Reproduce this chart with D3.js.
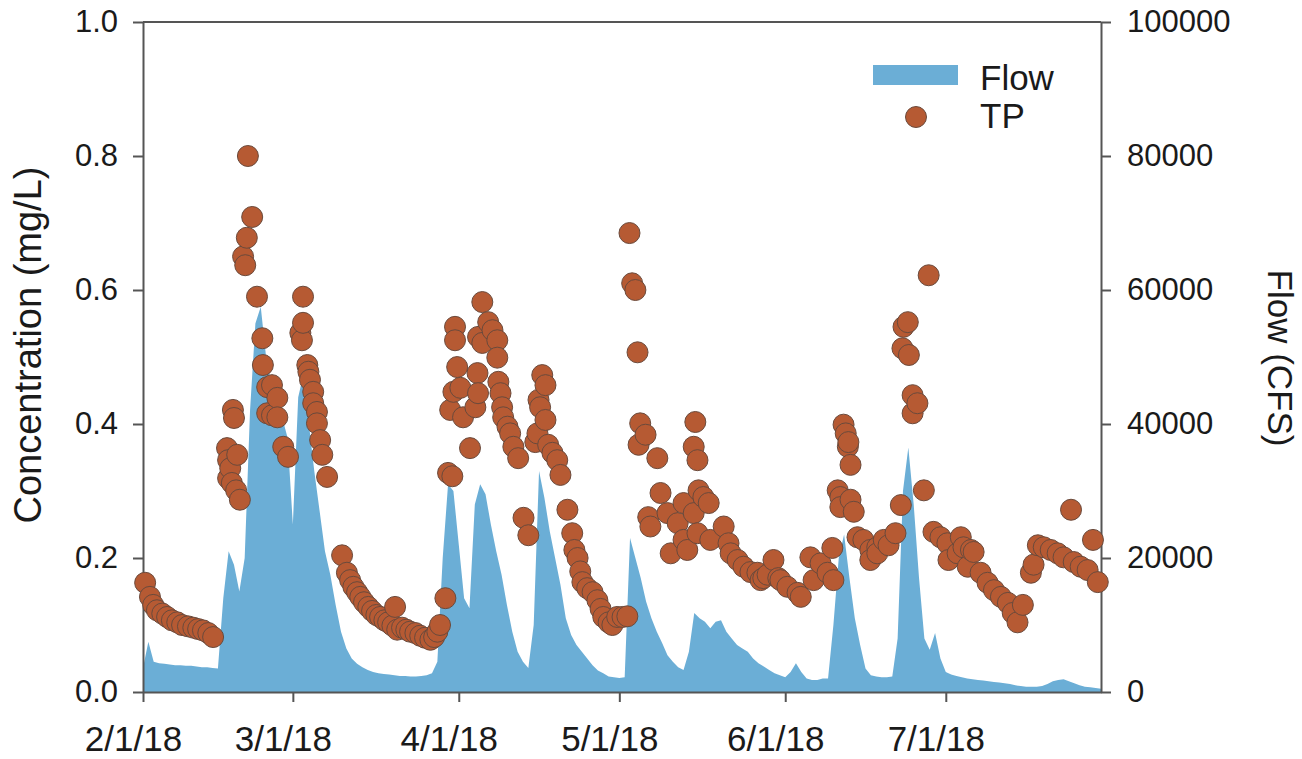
<!DOCTYPE html>
<html>
<head>
<meta charset="utf-8">
<script src="https://cdn.jsdelivr.net/npm/d3@7"></script>
<style>
  body { margin: 0; background: #fff; }
  svg { display: block; }
  text { font-family: "Liberation Sans", Arial, Helvetica, sans-serif; fill: #1a1a1a; }
</style>
</head>
<body>
<svg id="chart" width="1302" height="759"></svg>
<script>
// Record start (day 0) of both series
const startDate = "2018-02-01";

// Daily flow (CFS), one value per day starting 1 Feb 2018
const flowCfs = [
  3600, 7500, 4500, 4300, 4200, 4100, 4000, 4000, 3900, 3900,
  3800, 3700, 3700, 3600, 3500, 14000, 21000, 19000, 15000, 20000,
  42000, 55000, 57500, 50000, 46000, 43000, 41000, 38000, 25000, 44000,
  47500, 40000, 33000, 27000, 21000, 17500, 13000, 9000, 6500, 5000,
  4200, 3700, 3300, 3000, 2800, 2700, 2600, 2500, 2400, 2400,
  2300, 2300, 2400, 2500, 2800, 4500, 20000, 31000, 30000, 22000,
  14000, 12500, 28000, 31000, 29500, 25000, 21000, 17500, 13000, 9000,
  6000, 4500, 3600, 10000, 33000, 29000, 24000, 20000, 16000, 11000,
  8500, 7000, 6000, 5000, 4000, 3200, 2800, 2300, 2200, 2100,
  2200, 23000, 20000, 17000, 13500, 11000, 9000, 7300, 5500, 4500,
  3700, 3300, 6000, 11800, 11000, 10500, 9500, 10500, 10700, 9000,
  8000, 7000, 6500, 6000, 5000, 4300, 3800, 3300, 2800, 2500,
  2200, 3000, 4300, 3000, 2000, 1800, 1800, 2000, 2000, 10000,
  20000, 23500, 17000, 11000, 7000, 3500, 2500, 2300, 2200, 2200,
  2300, 8000, 30000, 36500, 28000, 17000, 8000, 6300, 8800, 5000,
  3000, 2600, 2400, 2200, 2000, 1900, 1800, 1700, 1600, 1500,
  1400, 1300, 1200, 1000, 900, 800, 800, 800, 900, 1200,
  1600, 1800, 1900, 1600, 1300, 1000, 800, 700, 600, 500
];

// Total phosphorus samples: time (days after 1 Feb 2018) and concentration (mg/L)
const tpDays = [
  0.4, 1.3, 1.9, 2.6, 3.6, 4.5, 5.4, 6.4, 7.3, 8.4, 9.4, 10.3, 11.2, 12.2, 13.1,
  15.7, 15.9, 15.9, 16.3, 16.6, 16.8, 17.0, 17.4, 17.6, 18.1, 18.7, 19.1, 19.4, 19.6, 20.4,
  21.3, 22.3, 22.4, 23.2, 23.2, 24.1, 24.1, 25.1, 25.1, 26.2, 27.1,
  29.4, 29.7, 29.9, 29.9, 30.7, 30.9, 31.2, 31.8, 31.8, 32.5, 32.5, 33.1, 33.5, 34.4,
  37.2, 38.1, 38.7, 39.3, 40.0, 40.6, 41.3, 42.1, 42.8, 43.6, 44.3, 45.1, 45.8, 46.6,
  47.1, 47.5, 48.4, 49.2, 49.9, 50.9, 51.8, 52.7, 53.7, 54.4, 55.0, 55.5, 56.5,
  57.0, 57.8, 57.4, 58.0, 58.3, 58.3, 58.7, 59.3, 59.8, 61.1, 62.1, 62.5, 62.6, 62.6,
  63.4, 63.4, 64.5, 65.3, 66.2, 66.2, 66.4, 66.8, 67.1, 67.3, 68.1, 68.6, 69.2, 70.1,
  71.1, 72.0,
  73.3, 73.7, 73.9, 74.2, 74.6, 75.2, 75.2, 75.7, 76.5, 77.4, 78.0, 79.3, 80.2, 80.6,
  81.2, 81.7, 82.1, 83.0, 84.0, 84.9, 85.5, 86.0, 87.0, 87.7, 88.6, 89.6, 90.5,
  90.9, 91.4, 92.0, 92.4, 92.6, 92.9, 93.9, 94.4, 94.8, 96.1, 96.7, 98.0, 98.6, 99.9,
  101.0, 101.0, 101.7, 102.9, 102.9, 103.2, 103.6, 103.6, 103.8, 104.7, 105.7, 106.0,
  108.5, 109.4, 109.8, 111.1, 112.2, 113.5, 114.8, 115.4, 115.9, 116.7, 117.8, 118.7,
  119.1, 120.4, 122.3, 122.9, 124.7, 125.3, 126.6, 127.9, 128.8, 129.0, 129.8, 130.3,
  130.3, 130.9, 131.3, 131.7, 131.8, 132.2, 132.2, 132.8, 133.5, 134.6, 135.9, 135.9,
  137.2, 137.2, 138.4, 139.3, 140.6, 141.6,
  141.9, 142.1, 142.9, 143.1, 143.8, 143.8, 144.7, 145.9, 146.8, 147.7, 149.0, 150.3,
  150.5, 152.2, 152.8, 153.3, 154.1, 154.7,
  155.2, 156.5, 157.8, 159.0, 160.3, 161.6, 162.5, 163.4, 164.4, 165.9, 166.4, 167.2,
  168.3, 169.6, 170.9, 172.0, 173.4, 173.9, 175.2, 176.5, 177.5, 178.4
];
const tpConc = [
  0.163, 0.142, 0.130, 0.122, 0.117, 0.112, 0.107, 0.104, 0.100, 0.098, 0.096, 0.094, 0.092, 0.088, 0.082,
  0.364, 0.346, 0.319, 0.334, 0.312, 0.421, 0.409, 0.301, 0.354, 0.287, 0.650, 0.637, 0.678, 0.800, 0.709,
  0.590, 0.528, 0.488, 0.455, 0.416, 0.458, 0.413, 0.439, 0.410, 0.366, 0.351,
  0.536, 0.525, 0.590, 0.551, 0.488, 0.478, 0.466, 0.448, 0.431, 0.418, 0.401, 0.376, 0.354, 0.321,
  0.204, 0.178, 0.167, 0.157, 0.149, 0.142, 0.134, 0.127, 0.121, 0.115, 0.112, 0.107, 0.104, 0.099,
  0.127, 0.093, 0.096, 0.093, 0.090, 0.088, 0.084, 0.081, 0.078, 0.082, 0.090, 0.100, 0.140,
  0.327, 0.322, 0.421, 0.448, 0.545, 0.525, 0.485, 0.454, 0.410, 0.364, 0.425, 0.476, 0.446, 0.530,
  0.582, 0.521, 0.552, 0.540, 0.525, 0.499, 0.463, 0.446, 0.425, 0.410, 0.396, 0.386, 0.366, 0.349,
  0.260, 0.234,
  0.373, 0.386, 0.436, 0.425, 0.473, 0.458, 0.406, 0.369, 0.357, 0.346, 0.324, 0.272, 0.237, 0.212,
  0.200, 0.180, 0.164, 0.155, 0.149, 0.137, 0.124, 0.112, 0.104, 0.100, 0.112, 0.112, 0.113,
  0.685, 0.610, 0.600, 0.507, 0.369, 0.401, 0.384, 0.261, 0.247, 0.349, 0.297, 0.267, 0.207, 0.252,
  0.227, 0.282, 0.212, 0.366, 0.267, 0.403, 0.346, 0.237, 0.301, 0.291, 0.282, 0.227,
  0.247, 0.222, 0.207, 0.197, 0.187, 0.179, 0.178, 0.167, 0.170, 0.175, 0.197, 0.170,
  0.167, 0.157, 0.148, 0.142, 0.201, 0.167, 0.192, 0.178, 0.215, 0.167, 0.301, 0.291,
  0.276, 0.399, 0.386, 0.366, 0.373, 0.339, 0.287, 0.269, 0.231, 0.227, 0.212, 0.197,
  0.216, 0.207, 0.227, 0.219, 0.237, 0.279,
  0.513, 0.545, 0.552, 0.503, 0.443, 0.416, 0.431, 0.301, 0.622, 0.239, 0.231, 0.222,
  0.197, 0.207, 0.231, 0.216, 0.187, 0.212,
  0.209, 0.178, 0.163, 0.152, 0.142, 0.133, 0.118, 0.104, 0.130, 0.178, 0.190, 0.219,
  0.216, 0.212, 0.207, 0.201, 0.272, 0.194, 0.187, 0.182, 0.227, 0.164
];

// Axis ticks
const xTickDates = ["2018-02-01", "2018-03-01", "2018-04-01", "2018-05-01", "2018-06-01", "2018-07-01"];
const xTickLabels = ["2/1/18", "3/1/18", "4/1/18", "5/1/18", "6/1/18", "7/1/18"];
const concTicks = [0, 0.2, 0.4, 0.6, 0.8, 1.0];
const flowTicks = [0, 20000, 40000, 60000, 80000, 100000];

const parseDay = d3.timeParse("%Y-%m-%d");
const t0 = parseDay(startDate);
const atDays = d => new Date(t0.getTime() + d * 864e5);

const flowData = flowCfs.map((v, i) => ({ date: d3.timeDay.offset(t0, i), value: v }));
const tpData = tpDays.map((d, i) => ({ date: atDays(d), value: tpConc[i] }));

// Plot frame in pixels
const frame = { left: 143, right: 1101, top: 22, bottom: 692 };
const axisColor = "#555";

const svg = d3.select("#chart");

const x = d3.scaleTime()
  .domain([t0, d3.timeDay.offset(t0, flowCfs.length - 1)])
  .range([frame.left, frame.right]);
const yConc = d3.scaleLinear().domain([0, 1]).range([frame.bottom, frame.top]);
const yFlow = d3.scaleLinear().domain([0, 100000]).range([frame.bottom, frame.top]);

// Flow as a filled area on the right-hand axis
svg.append("path")
  .datum(flowData)
  .attr("fill", "#6baed6")
  .attr("d", d3.area()
    .x(d => x(d.date))
    .y0(yFlow(0))
    .y1(d => yFlow(d.value)));

// Top frame line
svg.append("line")
  .attr("x1", frame.left).attr("x2", frame.right)
  .attr("y1", frame.top).attr("y2", frame.top)
  .attr("stroke", axisColor).attr("stroke-width", 2);

function styleAxis(g, fontSize) {
  g.select(".domain").attr("stroke", axisColor).attr("stroke-width", 2);
  g.selectAll(".tick line").attr("stroke", axisColor).attr("stroke-width", 2);
  g.selectAll(".tick text")
    .attr("fill", "#1a1a1a")
    .style("font-size", fontSize + "px")
    .style("font-family", '"Liberation Sans", Arial, sans-serif');
}

// Left axis: concentration
svg.append("g")
  .attr("transform", `translate(${frame.left},0)`)
  .call(d3.axisLeft(yConc).tickValues(concTicks).tickFormat(d3.format(".1f"))
    .tickSize(10).tickSizeOuter(0).tickPadding(15))
  .call(g => styleAxis(g, 31));

// Right axis: flow
svg.append("g")
  .attr("transform", `translate(${frame.right},0)`)
  .call(d3.axisRight(yFlow).tickValues(flowTicks).tickFormat(d3.format("d"))
    .tickSize(10).tickSizeOuter(0).tickPadding(16))
  .call(g => styleAxis(g, 31));

// Bottom axis: dates
const xTicks = xTickDates.map(parseDay);
svg.append("g")
  .attr("transform", `translate(0,${frame.bottom})`)
  .call(d3.axisBottom(x).tickValues(xTicks)
    .tickFormat((d, i) => xTickLabels[i])
    .tickSize(10).tickSizeOuter(0).tickPadding(24))
  .call(g => styleAxis(g, 35))
  .call(g => g.selectAll(".tick text").attr("dx", -10));

// TP samples on the left-hand axis
svg.append("g")
  .selectAll("circle")
  .data(tpData)
  .join("circle")
  .attr("cx", d => x(d.date))
  .attr("cy", d => yConc(d.value))
  .attr("r", 10.5)
  .attr("fill", "#b65a33")
  .attr("stroke", "#6a4a3c")
  .attr("stroke-width", 1);

// Axis titles
svg.append("text")
  .attr("transform", "translate(41,345) rotate(-90)")
  .attr("text-anchor", "middle")
  .style("font-size", "38px")
  .text("Concentration (mg/L)");

svg.append("text")
  .attr("transform", "translate(1268,358) rotate(90)")
  .attr("text-anchor", "middle")
  .style("font-size", "35px")
  .text("Flow (CFS)");

// Legend
const legend = svg.append("g");
legend.append("rect")
  .attr("x", 873).attr("y", 65).attr("width", 85).attr("height", 20)
  .attr("fill", "#6baed6");
legend.append("text")
  .attr("x", 980).attr("y", 90)
  .style("font-size", "35px")
  .text("Flow");
legend.append("circle")
  .attr("cx", 916).attr("cy", 117).attr("r", 10.5)
  .attr("fill", "#b65a33").attr("stroke", "#6a4a3c").attr("stroke-width", 1);
legend.append("text")
  .attr("x", 980).attr("y", 128)
  .style("font-size", "35px")
  .text("TP");
</script>
</body>
</html>
